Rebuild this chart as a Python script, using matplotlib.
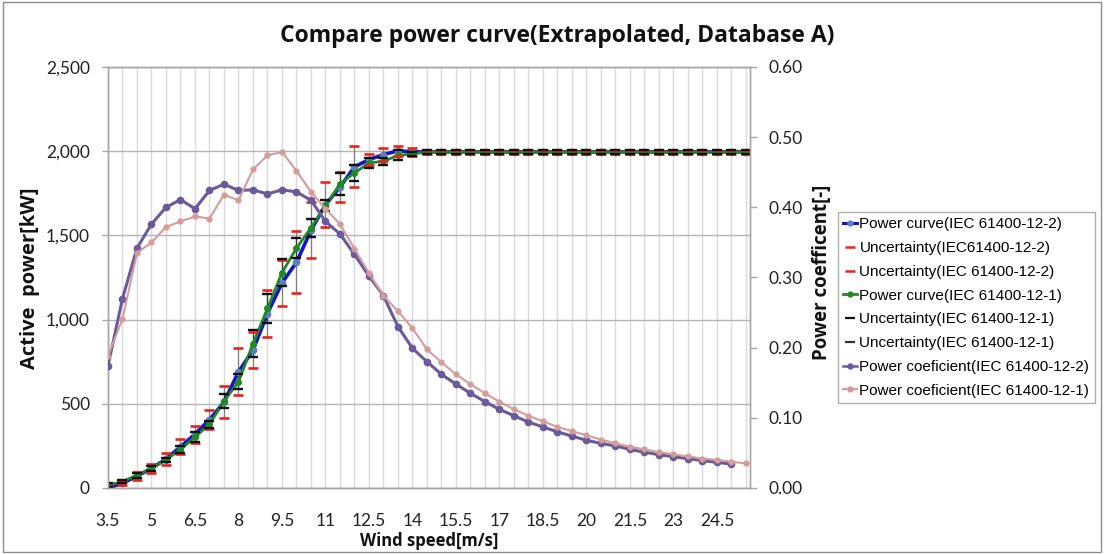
import matplotlib
matplotlib.use("Agg")
import matplotlib.pyplot as plt
from matplotlib.lines import Line2D
from matplotlib.patches import Rectangle
import numpy as np

# ---------------- data ----------------
wind_speed = [3.5, 4, 4.5, 5, 5.5, 6, 6.5, 7, 7.5, 8, 8.5, 9, 9.5, 10, 10.5, 11,
              11.5, 12, 12.5, 13, 13.5, 14, 14.5, 15, 15.5, 16, 16.5, 17, 17.5,
              18, 18.5, 19, 19.5, 20, 20.5, 21, 21.5, 22, 22.5, 23, 23.5, 24,
              24.5, 25, 25.5]
tick_labels = ["3.5", "5", "6.5", "8", "9.5", "11", "12.5", "14", "15.5", "17",
               "18.5", "20", "21.5", "23", "24.5"]

power_12_2 = [0, 28, 71, 117, 172, 245, 320, 406, 510, 690, 818, 1036, 1218,
              1340, 1530, 1682, 1787, 1907, 1950, 1980, 2002, 1996,
              1996, 1996, 1996, 1996, 1996, 1996, 1996, 1996, 1996, 1996, 1996,
              1996, 1996, 1996, 1996, 1996, 1996, 1996, 1996, 1996, 1996, 1996, 1996]
unc_12_2 = [10, 13, 22, 27, 33, 44, 50, 55, 94, 140, 106, 138, 138, 184, 167,
            134, 88, 121, 33, 38, 30, 24,
            14, 14, 14, 14, 14, 14, 14, 14, 14, 14, 14, 14, 14, 14, 14, 14, 14,
            14, 14, 14, 14, 14, 14]

power_12_1 = [18, 38, 77, 116, 168, 228, 303, 378, 516, 630, 857, 1066, 1279,
              1424, 1545, 1676, 1807, 1871, 1930, 1940, 1975, 1984,
              1995, 1995, 1995, 1995, 1995, 1995, 1995, 1995, 1995, 1995, 1995,
              1995, 1995, 1995, 1995, 1995, 1995, 1995, 1995, 1995, 1995, 1995, 1995]
unc_12_1 = [12, 10, 15, 15, 12, 20, 30, 20, 42, 45, 80, 88, 78, 58, 53, 33, 65,
            50, 30, 20, 30, 14,
            12, 12, 12, 12, 12, 12, 12, 12, 12, 12, 12, 12, 12, 12, 12, 12, 12,
            12, 12, 12, 12, 12, 12]

cp_12_2 = [0.174, 0.270, 0.342, 0.376, 0.400, 0.411, 0.398, 0.424, 0.433, 0.424,
           0.425, 0.419, 0.425, 0.422, 0.410, 0.380, 0.362, 0.333, 0.302, 0.274,
           0.230, 0.199, 0.180, 0.162, 0.148, 0.135, 0.123, 0.112, 0.103, 0.094,
           0.087, 0.080, 0.074, 0.068, 0.0636, 0.060, 0.055, 0.051, 0.0475, 0.0446,
           0.0418, 0.039, 0.0366, 0.034, np.nan]
cp_12_1 = [0.188, 0.241, 0.335, 0.350, 0.372, 0.380, 0.387, 0.384, 0.418, 0.410,
           0.454, 0.474, 0.479, 0.452, 0.422, 0.398, 0.376, 0.341, 0.306, 0.274,
           0.252, 0.2275, 0.1976, 0.179, 0.162, 0.148, 0.135, 0.123, 0.112, 0.103,
           0.095, 0.087, 0.081, 0.075, 0.069, 0.0636, 0.059, 0.055, 0.051, 0.048,
           0.045, 0.042, 0.040, 0.0375, 0.035]

# ---------------- styles ----------------
C_BLUE = "#1414c8"
C_BLUE_M = "#5a7fc0"
C_GREEN = "#1f8a1f"
C_PURPLE = "#6a5a9c"
C_PINK = "#d49c9a"
C_RED = "#e8221c"
C_BLACK = "#111111"

TICK_FONT = "Lato"
LEG_FONT = "Liberation Sans"
BOLD_FONT = "Open Sans"

x = np.arange(len(wind_speed))
p2 = np.array(power_12_2, float)
p1 = np.array(power_12_1, float)
u2 = np.array(unc_12_2, float)
u1 = np.array(unc_12_1, float)

fig = plt.figure(figsize=(11.04, 5.54), dpi=100)
ax = fig.add_axes([108 / 1104, 1 - 488 / 554, (750 - 108) / 1104, (488 - 67) / 554])
ax2 = ax.twinx()

# grid
ax.set_xlim(0, 44.28)
ax.set_ylim(0, 2500)
ax.set_yticks([0, 500, 1000, 1500, 2000, 2500])
ax.set_yticklabels(["0", "500", "1,000", "1,500", "2,000", "2,500"])
ax.set_xticks(x, minor=True)
ax.set_xticks(x[::3])
ax.set_xticklabels(tick_labels)
ax.grid(True, axis="y", color="#b4b4b4", lw=1.0, zorder=0)
ax.grid(True, axis="x", which="both", color="#dadada", lw=1.0, zorder=0)
ax.set_axisbelow(True)

# uncertainty vertical bars
ax.vlines(x, p2 - u2, p2 + u2, color="#808080", lw=0.9, zorder=2)
ax.vlines(x, p1 - u1, p1 + u1, color="#3a3a3a", lw=0.9, zorder=2)

# power curves
ax.plot(x, p2, color=C_BLUE, lw=2.6, marker="o", ms=4.5, mfc=C_BLUE_M,
        mec=C_BLUE_M, zorder=3)
ax.plot(x, p1, color=C_GREEN, lw=2.0, marker="o", ms=4, mfc=C_GREEN,
        mec=C_GREEN, zorder=4)

# uncertainty dashes
ax.plot(x, p2 + u2, ls="none", marker="_", ms=7.5, mew=1.9, color=C_RED, zorder=5)
ax.plot(x, p2 - u2, ls="none", marker="_", ms=7.5, mew=1.9, color=C_RED, zorder=5)
ax.plot(x, p1 + u1, ls="none", marker="_", ms=7, mew=1.7, color=C_BLACK, zorder=6)
ax.plot(x, p1 - u1, ls="none", marker="_", ms=7, mew=1.7, color=C_BLACK, zorder=6)

# power coefficients
ax2.set_ylim(0, 0.6)
ax2.set_yticks([0, 0.1, 0.2, 0.3, 0.4, 0.5, 0.6])
ax2.set_yticklabels(["0.00", "0.10", "0.20", "0.30", "0.40", "0.50", "0.60"])
ax2.plot(x, cp_12_2, color=C_PURPLE, lw=2.2, marker="o", ms=4.5, zorder=3)
ax2.plot(x, cp_12_1, color=C_PINK, lw=1.5, marker="o", ms=3.5, zorder=3)

# spines and ticks
for a in (ax, ax2):
    for s in a.spines.values():
        s.set_color("#a6a6a6")
        s.set_linewidth(1.0)
ax.tick_params(axis="y", length=4, width=1, color="#a6a6a6", pad=9,
               labelsize=12.5, labelcolor="#222222")
ax.tick_params(axis="x", which="both", length=0, pad=18, labelsize=12.5,
               labelcolor="#222222")
ax2.tick_params(axis="y", length=5, width=1, color="#a6a6a6", pad=8,
                labelsize=12.5, labelcolor="#222222")
for lab in ax.get_xticklabels() + ax.get_yticklabels() + ax2.get_yticklabels():
    lab.set_fontfamily(TICK_FONT)

# labels / title
fig.text(0.505, 1 - 36 / 554, "Compare power curve(Extrapolated, Database A)",
         ha="center", va="center", fontsize=16.5, fontweight="bold",
         family=BOLD_FONT, color="#111111")
fig.text(30 / 1104, 1 - 278 / 554, "Active  power[kW]", rotation=90,
         ha="center", va="center", fontsize=14.5, fontweight="bold",
         family=BOLD_FONT, color="#111111")
fig.text(429 / 1104, 1 - 541 / 554, "Wind speed[m/s]", ha="center", va="center",
         fontsize=12, fontweight="bold", family=BOLD_FONT, color="#111111")
fig.text(822 / 1104, 1 - 272 / 554, "Power coefficent[-]", rotation=90,
         ha="center", va="center", fontsize=13.5, fontweight="bold",
         family=BOLD_FONT, color="#111111")

# legend
handles = [
    Line2D([], [], color=C_BLUE, lw=2.2, marker="o", ms=3.5, mfc=C_BLUE_M, mec=C_BLUE_M),
    Line2D([], [], ls="none", marker="_", ms=7, mew=1.8, color=C_RED),
    Line2D([], [], ls="none", marker="_", ms=7, mew=1.8, color=C_RED),
    Line2D([], [], color=C_GREEN, lw=2.0, marker="o", ms=3.5),
    Line2D([], [], ls="none", marker="_", ms=7, mew=1.6, color=C_BLACK),
    Line2D([], [], ls="none", marker="_", ms=7, mew=1.6, color="#333333"),
    Line2D([], [], color=C_PURPLE, lw=1.8, marker="o", ms=3.5),
    Line2D([], [], color=C_PINK, lw=1.6, marker="o", ms=3.5),
]
labels = [
    "Power curve(IEC 61400-12-2)",
    "Uncertainty(IEC61400-12-2)",
    "Uncertainty(IEC 61400-12-2)",
    "Power curve(IEC 61400-12-1)",
    "Uncertainty(IEC 61400-12-1)",
    "Uncertainty(IEC 61400-12-1)",
    "Power coeficient(IEC 61400-12-2)",
    "Power coeficient(IEC 61400-12-1)",
]
leg = fig.legend(handles, labels, loc="upper left",
                 bbox_to_anchor=(838 / 1104, 1 - 212 / 554),
                 frameon=True, fancybox=False, edgecolor="#9a9a9a",
                 prop={"family": LEG_FONT, "size": 11}, handlelength=0.9,
                 handletextpad=0.15, labelspacing=0.64, borderpad=0.35,
                 borderaxespad=0)
leg.get_frame().set_linewidth(1.0)

# outer chart border
fig.patches.append(Rectangle((3 / 1104, 2 / 554), 1 - 6 / 1104, 1 - 4 / 554,
                             transform=fig.transFigure, fill=False,
                             edgecolor="#8c8c8c", lw=1.0))

fig.savefig("out.png", dpi=100)
